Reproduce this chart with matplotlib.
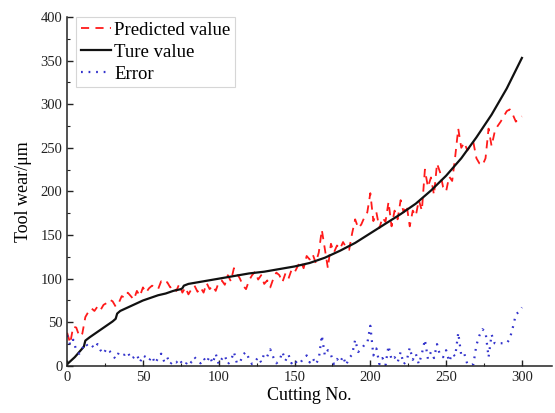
import matplotlib
matplotlib.use("Agg")
import matplotlib.pyplot as plt
from matplotlib.ticker import MultipleLocator

# Cutting numbers for the sampled predicted / error series
cut_no = list(range(0, 301, 2))

predicted = [
    38, 26, 45, 44, 34, 37, 56, 62, 66, 63,
    68, 64, 70, 72, 76, 74, 68, 72, 80, 78,
    84, 80, 76, 86, 80, 90, 84, 89, 92, 90,
    88, 97, 94, 96, 90, 92, 86, 94, 84, 90,
    82, 88, 92, 85, 90, 84, 95, 88, 92, 86,
    96, 98, 93, 104, 97, 112, 106, 100, 92, 88,
    98, 104, 108, 99, 104, 94, 98, 90, 100, 107,
    104, 96, 106, 100, 110, 107, 114, 120, 112, 126,
    122, 128, 118, 130, 156, 134, 112, 140, 130, 138,
    134, 142, 136, 133, 152, 168, 158, 162, 170, 176,
    198, 166, 176, 158, 170, 165, 188, 160, 178, 168,
    190, 176, 184, 160, 178, 172, 190, 178, 225, 205,
    216, 196, 232, 222, 205, 200, 217, 212, 240, 272,
    250, 256, 247, 252, 256, 238, 232, 230, 238, 272,
    252, 268, 275, 280, 286, 292, 294, 288, 280, 284,
    286,
]

error = [
    35, 24, 30, 18, 14, 20, 26, 22, 24, 20,
    25, 18, 14, 20, 17, 12, 8, 15, 12, 13,
    16, 8, 10, 13, 4, 12, 10, 6, 11, 3,
    9, 14, 5, 10, 2, 6, 4, 8, 2, 1,
    7, 4, 10, 6, 3, 9, 4, 11, 3, 14,
    2, 8, 12, 2, 6, 16, 3, 4, 13, 16,
    8, 2, 5, 10, 4, 14, 11, 19, 10, 3,
    6, 16, 6, 13, 3, 7, 2, 4, 9, 12,
    4, 9, 2, 8, 35, 12, 18, 13, 2, 8,
    4, 11, 1, 9, 13, 30, 16, 19, 24, 26,
    46, 12, 20, 2, 9, 1, 23, 7, 10, 4,
    16, 2, 6, 21, 7, 14, 2, 14, 30, 8,
    16, 9, 25, 12, 10, 18, 5, 14, 11, 38,
    12, 14, 2, 1, 2, 24, 35, 42, 39, 10,
    36, 26, 25, 26, 26, 26, 31, 44, 59, 62,
    67,
]

# Measured wear curve
true_no = [0, 5, 10, 11, 12, 15, 20, 25, 30, 32, 33, 35, 40, 45, 50, 55, 60,
           65, 70, 75, 76, 77, 80, 90, 100, 110, 120, 130, 140, 150, 160, 170,
           180, 190, 200, 210, 220, 230, 240, 250, 260, 270, 280, 290, 300]
true_val = [2, 10, 20, 22, 29, 33, 39, 45, 51, 54, 60, 63, 67, 71, 75, 78, 81,
            83, 86, 88, 89, 92, 94, 97, 100, 103, 106, 108, 111, 114, 118, 124,
            132, 141, 152, 163, 174, 186, 201, 218, 238, 262, 288, 318, 353]

plt.rcParams['font.family'] = ['Liberation Serif', 'DejaVu Serif']

fig = plt.figure(figsize=(5.55, 4.13), dpi=100)
ax = fig.add_axes([0.121, 0.114, 0.874, 0.845])

ax.plot(cut_no, predicted, color='#ff1a1a', lw=1.3, dashes=(4.5, 3.5),
        label='Predicted value')
ax.plot(true_no, true_val, color='#111111', lw=1.6, label='Ture value')
ax.plot(cut_no, error, color='#3333cc', lw=1.6, dashes=(0.8, 2.6),
        label='Error')

ax.set_xlim(0, 320)
ax.set_ylim(0, 400)
ax.xaxis.set_major_locator(MultipleLocator(50))
ax.xaxis.set_minor_locator(MultipleLocator(25))
ax.yaxis.set_major_locator(MultipleLocator(50))
ax.yaxis.set_minor_locator(MultipleLocator(25))
ax.set_xticks([0, 50, 100, 150, 200, 250, 300])

for s in ['top', 'right']:
    ax.spines[s].set_visible(False)
for s in ['left', 'bottom']:
    ax.spines[s].set_linewidth(1.1)
    ax.spines[s].set_color('#222222')

ax.tick_params(which='major', direction='in', length=4, width=1,
               labelsize=10.5, colors='#222222')
ax.tick_params(which='minor', direction='in', length=2.5, width=0.8,
               colors='#222222')

ax.set_xlabel('Cutting No.', fontsize=13, labelpad=2)
ax.set_ylabel('Tool wear/μm', fontsize=13, labelpad=6)

leg = ax.legend(loc='upper left', bbox_to_anchor=(0.018, 1.0), fontsize=13.5,
                frameon=True, fancybox=False, handlelength=1.6,
                handletextpad=0.2, borderpad=0.25, labelspacing=0.26,
                borderaxespad=0.0)
leg.get_frame().set_edgecolor('#cccccc')
leg.get_frame().set_linewidth(0.8)

fig.savefig('out.png', dpi=100)
